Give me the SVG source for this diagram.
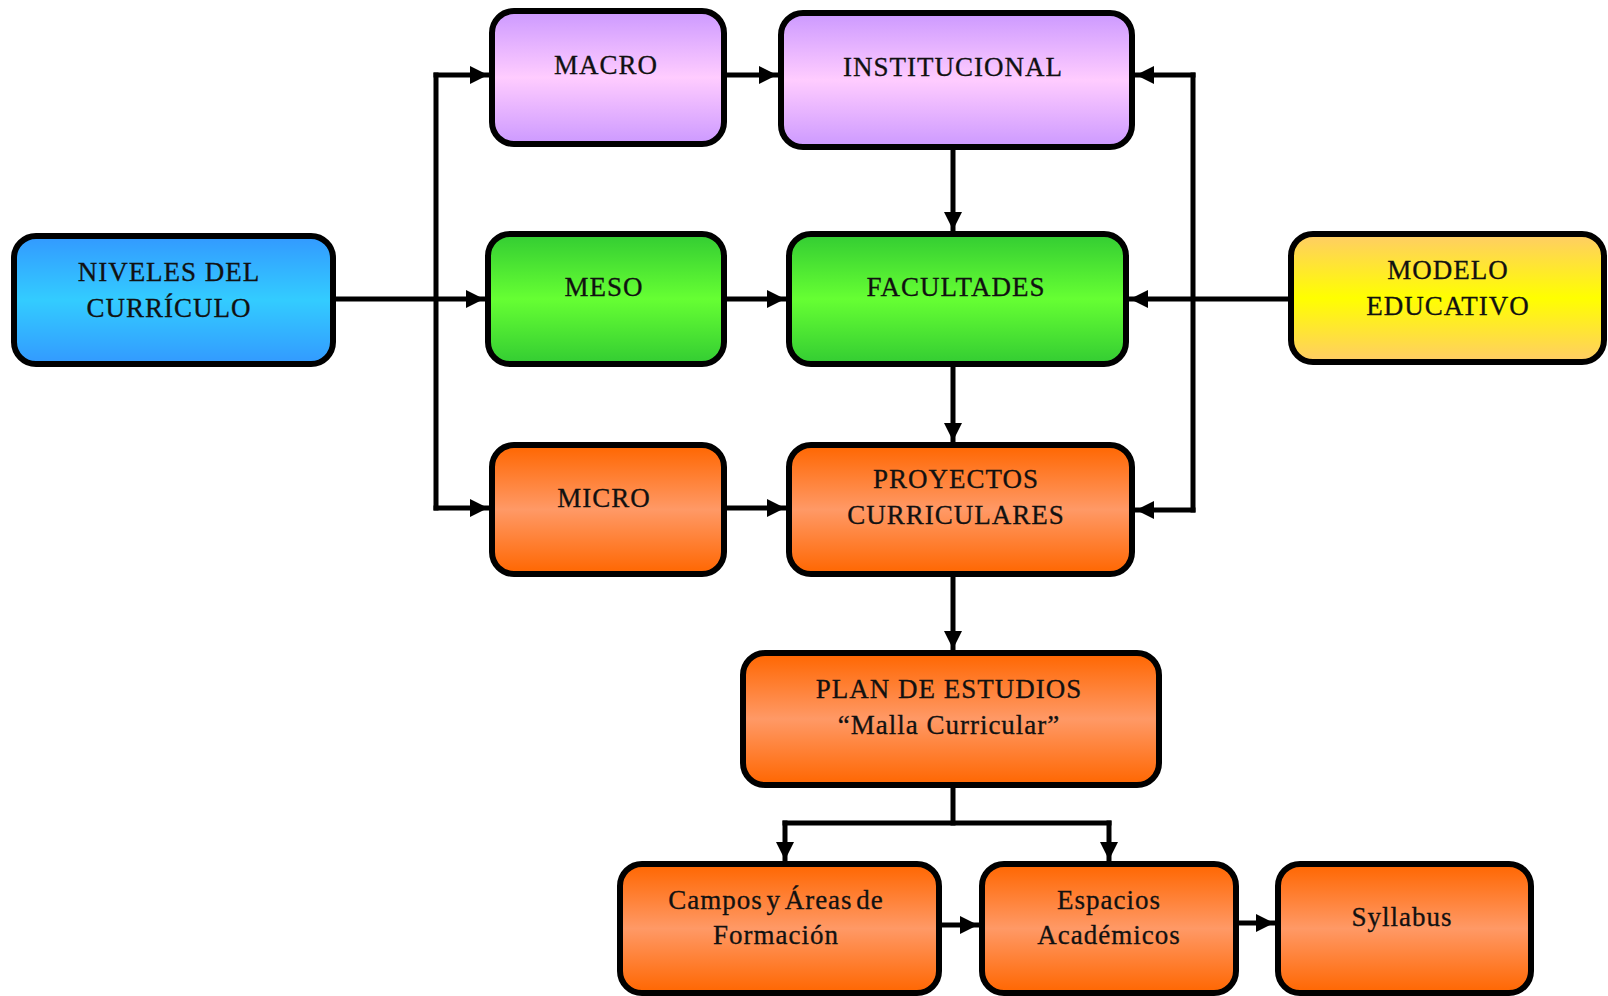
<svg xmlns="http://www.w3.org/2000/svg" width="1608" height="996" viewBox="0 0 1608 996">
<style>
.box{stroke:#000;stroke-width:6}
.t{font-family:"Liberation Serif","DejaVu Serif",serif;font-size:27px;fill:#111;text-anchor:middle;letter-spacing:1px;stroke:#111;stroke-width:0.3}
.c{fill:none;stroke:#000;stroke-width:5;stroke-linecap:square;stroke-linejoin:miter}
</style>
<defs>
<linearGradient id="gBlue" x1="0" y1="0" x2="0" y2="1"><stop offset="0" stop-color="#3399ff"/><stop offset="0.5" stop-color="#33ccff"/><stop offset="1" stop-color="#3399ff"/></linearGradient>
<linearGradient id="gPurple" x1="0" y1="0" x2="0" y2="1"><stop offset="0" stop-color="#cc99ff"/><stop offset="0.5" stop-color="#ffccff"/><stop offset="1" stop-color="#cc99ff"/></linearGradient>
<linearGradient id="gGreen" x1="0" y1="0" x2="0" y2="1"><stop offset="0" stop-color="#33cc33"/><stop offset="0.5" stop-color="#66ff33"/><stop offset="1" stop-color="#33cc33"/></linearGradient>
<linearGradient id="gYellow" x1="0" y1="0" x2="0" y2="1"><stop offset="0" stop-color="#ffcc66"/><stop offset="0.5" stop-color="#ffff00"/><stop offset="1" stop-color="#ffcc66"/></linearGradient>
<linearGradient id="gOrange" x1="0" y1="0" x2="0" y2="1"><stop offset="0" stop-color="#ff6600"/><stop offset="0.5" stop-color="#ff9966"/><stop offset="1" stop-color="#ff6600"/></linearGradient>
<marker id="arr" viewBox="0 0 10 10" refX="10" refY="5" markerWidth="3.6" markerHeight="3.6" orient="auto" markerUnits="strokeWidth"><path d="M0,0 L10,5 L0,10 z" fill="#000"/></marker>
</defs>

<g id="connectors">
<path class="c" d="M333,299 H484" marker-end="url(#arr)"/>
<path class="c" d="M436,75 V508"/>
<path class="c" d="M436,75 H488" marker-end="url(#arr)"/>
<path class="c" d="M436,508 H488" marker-end="url(#arr)"/>
<path class="c" d="M724,75 H777" marker-end="url(#arr)"/>
<path class="c" d="M724,299 H785" marker-end="url(#arr)"/>
<path class="c" d="M724,508 H785" marker-end="url(#arr)"/>
<path class="c" d="M953,147 V230" marker-end="url(#arr)"/>
<path class="c" d="M953,364 V441" marker-end="url(#arr)"/>
<path class="c" d="M953,574 V649" marker-end="url(#arr)"/>
<path class="c" d="M1291,299 H1130" marker-end="url(#arr)"/>
<path class="c" d="M1193,75 V510"/>
<path class="c" d="M1193,75 H1136" marker-end="url(#arr)"/>
<path class="c" d="M1193,510 H1136" marker-end="url(#arr)"/>
<path class="c" d="M953,785 V823"/>
<path class="c" d="M785,823 H1109"/>
<path class="c" d="M785,823 V860" marker-end="url(#arr)"/>
<path class="c" d="M1109,823 V860" marker-end="url(#arr)"/>
<path class="c" d="M939,925 H978" marker-end="url(#arr)"/>
<path class="c" d="M1236,923 H1274" marker-end="url(#arr)"/>
</g>

<g id="niveles"><rect class="box" x="14" y="236" width="319" height="128" rx="22" fill="url(#gBlue)"/>
<text class="t" x="169" y="281">NIVELES DEL</text><text class="t" x="169" y="317">CURRÍCULO</text></g>

<g id="macro"><rect class="box" x="492" y="11" width="232" height="133" rx="22" fill="url(#gPurple)"/>
<text class="t" x="606" y="74">MACRO</text></g>

<g id="institucional"><rect class="box" x="781" y="13" width="351" height="134" rx="22" fill="url(#gPurple)"/>
<text class="t" x="953" y="76">INSTITUCIONAL</text></g>

<g id="meso"><rect class="box" x="488" y="234" width="236" height="130" rx="22" fill="url(#gGreen)"/>
<text class="t" x="604" y="296">MESO</text></g>

<g id="facultades"><rect class="box" x="789" y="234" width="337" height="130" rx="22" fill="url(#gGreen)"/>
<text class="t" x="956" y="296">FACULTADES</text></g>

<g id="modelo"><rect class="box" x="1291" y="234" width="313" height="128" rx="22" fill="url(#gYellow)"/>
<text class="t" x="1448" y="279">MODELO</text><text class="t" x="1448" y="315">EDUCATIVO</text></g>

<g id="micro"><rect class="box" x="492" y="445" width="232" height="129" rx="22" fill="url(#gOrange)"/>
<text class="t" x="604" y="507">MICRO</text></g>

<g id="proyectos"><rect class="box" x="789" y="445" width="343" height="129" rx="22" fill="url(#gOrange)"/>
<text class="t" x="956" y="488">PROYECTOS</text><text class="t" x="956" y="524">CURRICULARES</text></g>

<g id="plan"><rect class="box" x="743" y="653" width="416" height="132" rx="22" fill="url(#gOrange)"/>
<text class="t" x="949" y="698">PLAN DE ESTUDIOS</text><text class="t" x="949" y="734" letter-spacing="0">“Malla Curricular”</text></g>

<g id="campos"><rect class="box" x="620" y="864" width="319" height="129" rx="22" fill="url(#gOrange)"/>
<text class="t" x="776" y="909" letter-spacing="2" word-spacing="-4">Campos y Áreas de</text><text class="t" x="776" y="944" letter-spacing="2">Formación</text></g>

<g id="espacios"><rect class="box" x="982" y="864" width="254" height="129" rx="22" fill="url(#gOrange)"/>
<text class="t" x="1109" y="909" letter-spacing="2">Espacios</text><text class="t" x="1109" y="944" letter-spacing="2">Académicos</text></g>

<g id="syllabus"><rect class="box" x="1278" y="864" width="253" height="129" rx="22" fill="url(#gOrange)"/>
<text class="t" x="1402" y="926">Syllabus</text></g>
</svg>
